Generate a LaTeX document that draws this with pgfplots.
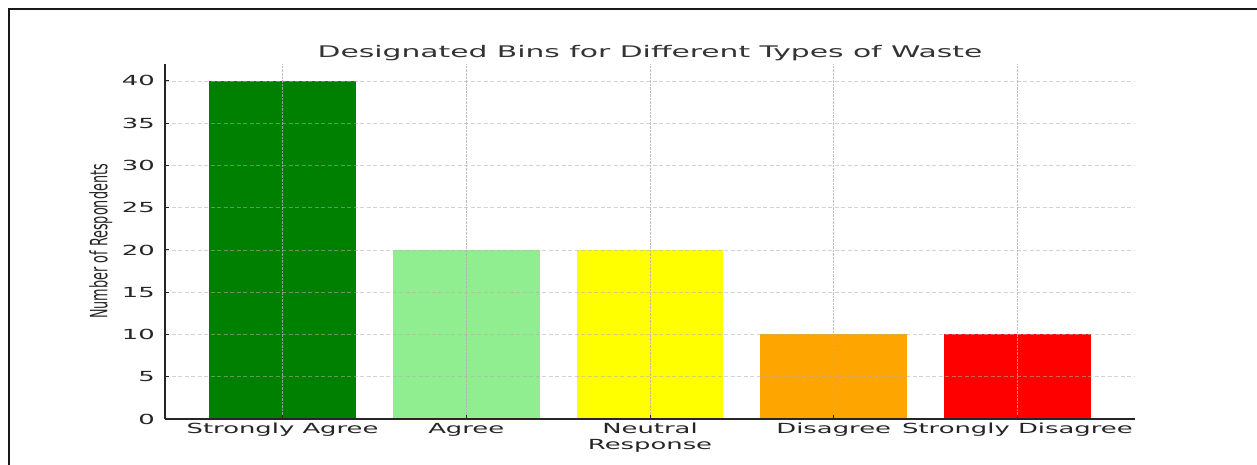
\documentclass[border=0pt]{standalone}
\usepackage{pgfplots}
\pgfplotsset{compat=1.18}
\usepackage{fontspec}
\setmainfont{DejaVu Sans}
\newfontfamily\wfont[FakeStretch=1.86]{DejaVu Sans}
\definecolor{cSA}{RGB}{0,128,0}
\definecolor{cA}{RGB}{144,238,144}
\definecolor{cN}{RGB}{255,255,0}
\definecolor{cD}{RGB}{255,165,0}
\definecolor{cSD}{RGB}{255,0,0}
\definecolor{gridc}{RGB}{176,176,176}
\definecolor{axc}{RGB}{38,38,38}
\begin{document}
\begin{tikzpicture}
\useasboundingbox (0,0) rectangle (1257bp,465bp);
\fill[white] (0,0) rectangle (1257bp,465bp);
\draw[line width=2bp, black!90] (9bp,0) -- (9bp,456bp) -- (1257bp,456bp);
\begin{axis}[
  at={(165bp,46bp)}, anchor=south west,
  scale only axis, width=970bp, height=355bp,
  xmin=-0.64, xmax=4.64, ymin=0, ymax=42,
  axis x line*=bottom, axis y line*=left,
  axis line style={line width=1.5bp, axc},
  axis on top,
  xtick={0,1,2,3,4},
  xticklabels={Strongly Agree, Agree, {Neutral\\Response}, Disagree, Strongly Disagree},
  ytick={0,5,...,40},
  tick align=inside, major tick length=4bp,
  tick style={line width=1bp, axc},
  xmajorgrids, ymajorgrids,
  x grid style={densely dotted, gridc, opacity=0.8, line width=0.8bp},
  y grid style={dash pattern=on 4bp off 2.5bp, gridc, opacity=0.55, line width=0.8bp},
  tick label style={font=\wfont\fontsize{13.9bp}{15.5bp}\selectfont, text=axc},
  /pgf/number format/assume math mode=true,
  xticklabel style={anchor=north, inner sep=0pt, yshift=-4bp, align=center},
  yticklabel style={anchor=east, inner sep=0pt, xshift=-10bp},
  title={Designated Bins for Different Types of Waste},
  title style={at={(0.5,1)}, anchor=base, yshift=0.5bp, inner sep=0pt,
    font=\wfont\fontsize{16bp}{19bp}\selectfont, text=black!80},
  ylabel={\scalebox{1}[1.86]{Number of Respondents}},
  ylabel style={at={(axis description cs:-0.0541,0.5)}, anchor=south, inner sep=0pt,
    font=\fontsize{12.8bp}{15bp}\selectfont, text=axc},
]
\addplot[ybar, bar width=0.8, bar shift=0pt, fill=cSA, draw=none] coordinates {(0,40)};
\addplot[ybar, bar width=0.8, bar shift=0pt, fill=cA, draw=none] coordinates {(1,20)};
\addplot[ybar, bar width=0.8, bar shift=0pt, fill=cN, draw=none] coordinates {(2,20)};
\addplot[ybar, bar width=0.8, bar shift=0pt, fill=cD, draw=none] coordinates {(3,10)};
\addplot[ybar, bar width=0.8, bar shift=0pt, fill=cSD, draw=none] coordinates {(4,10)};
\end{axis}
\end{tikzpicture}
\end{document}
